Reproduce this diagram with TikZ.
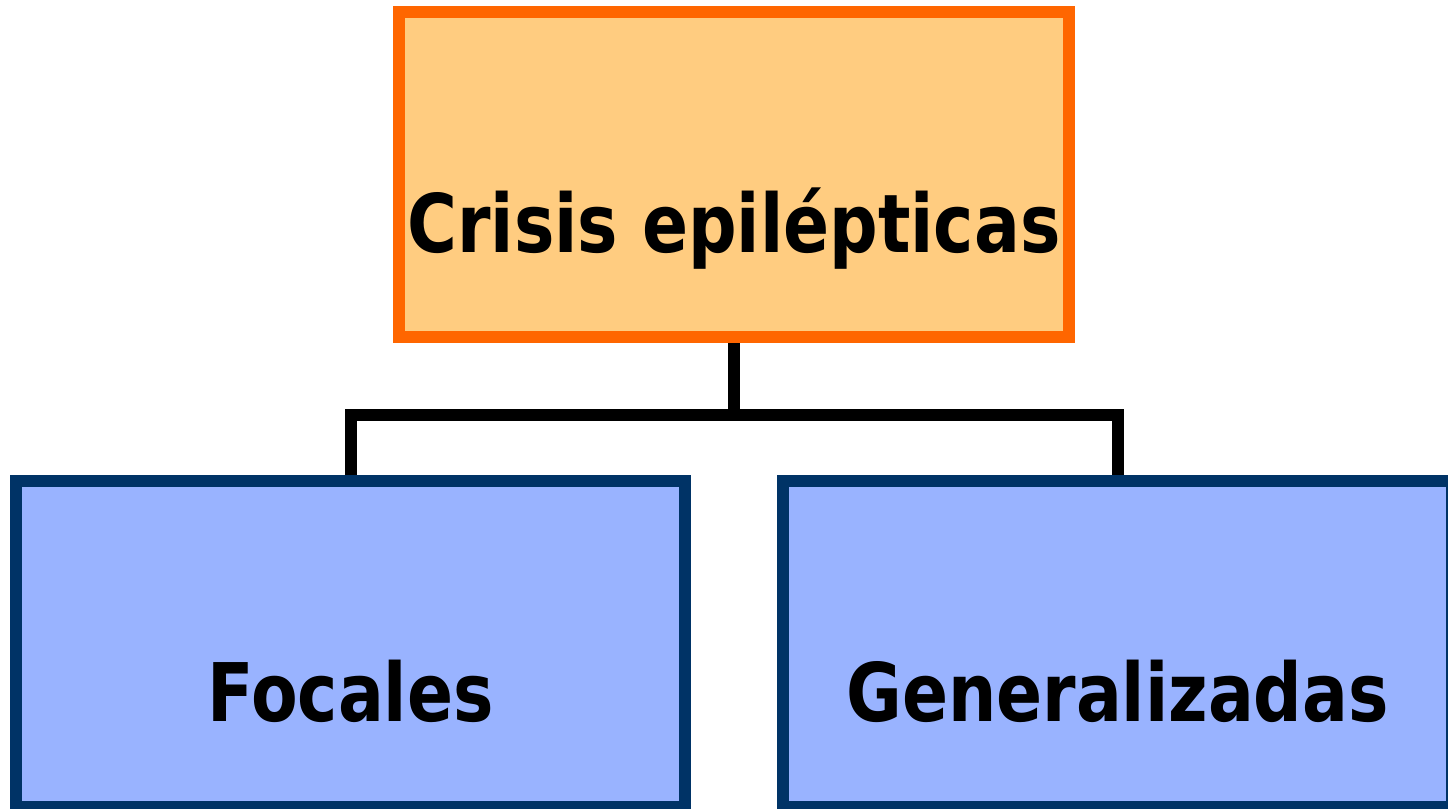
\documentclass[tikz,border=0pt]{standalone}
\usepackage{fontspec}
\usepackage{xcolor}
\usetikzlibrary{positioning}
\newfontfamily\boxfont[FakeStretch=0.84]{DejaVu Sans}
\definecolor{crisisline}{HTML}{FF6600}
\definecolor{crisisfill}{HTML}{FFCC80}
\definecolor{typeline}{HTML}{003366}
\definecolor{typefill}{HTML}{99B3FF}

\begin{document}
\begin{tikzpicture}[x=0.01cm,y=-0.01cm]
\useasboundingbox (0,0) rectangle (1448,808);
\tikzset{
  catbox/.style={rectangle, line width=0.12cm, minimum width=6.69cm, minimum height=3.25cm,
    text height=1.55cm, text depth=0cm, inner sep=0pt,
    font=\boxfont\bfseries\fontsize{23}{28}\selectfont},
  rootbox/.style={catbox, draw=crisisline, fill=crisisfill},
  leafbox/.style={catbox, draw=typeline, fill=typefill},
  branch/.style={line width=0.12cm, black}
}
% top box
\node[rootbox] (crisis) at (734,174.5) {Crisis epilépticas};
% bottom boxes
\node[leafbox] (focal) at (350.5,644) {Focales};
\node[leafbox] (general) at (1117.5,644) {Generalizadas};
% tree lines
\coordinate (split) at (734,415);
\draw[branch] (crisis.south) -- (split);
\draw[branch] (focal.north) |- (split) -| (general.north);
\end{tikzpicture}
\end{document}
